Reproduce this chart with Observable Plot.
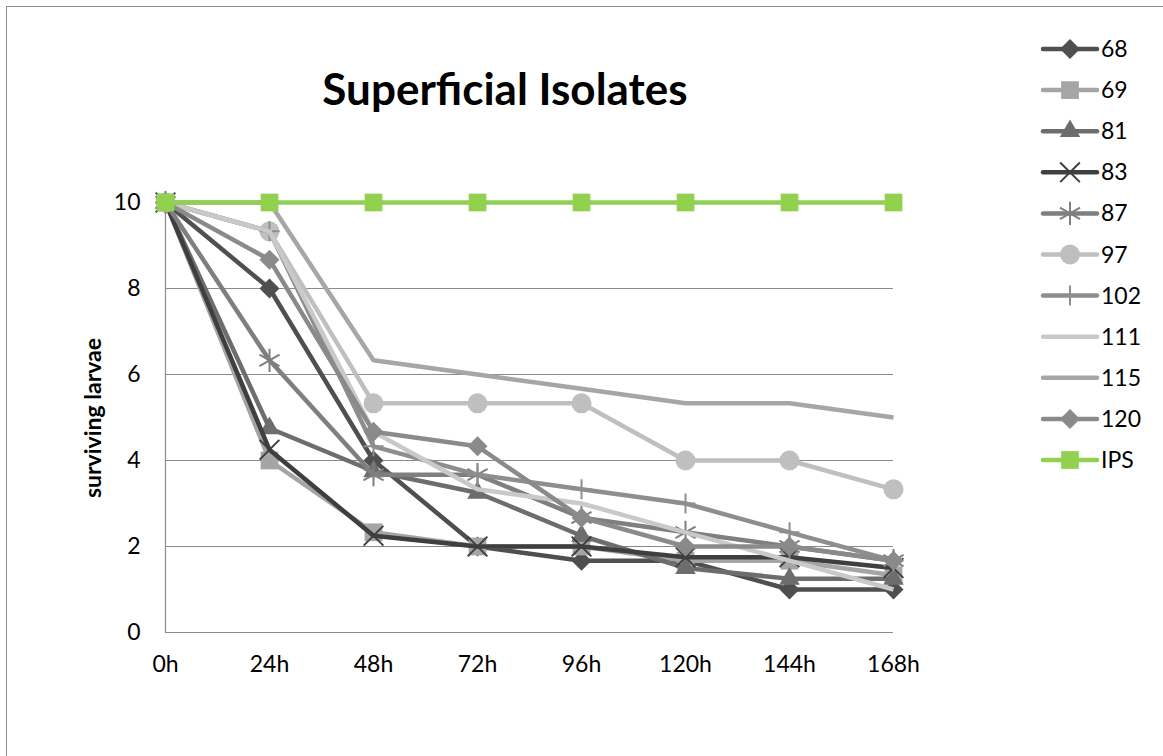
<!DOCTYPE html>
<html>
<head>
<meta charset="utf-8">
<script src="https://cdn.jsdelivr.net/npm/d3@7"></script>
<script src="https://cdn.jsdelivr.net/npm/@observablehq/plot@0.6"></script>
<style>
  body { margin: 0; background: #fff; font-family: Lato, "Open Sans", sans-serif; }
  #wrap { position: relative; width: 1163px; height: 756px; overflow: hidden; }
  #frame { position: absolute; left: 6px; top: 6px; width: 1200px; height: 800px; border: 1px solid #8c8c8c; }
  #title { position: absolute; left: 0; width: 1010px; top: 60px; text-align: center; font-size: 44px; font-weight: bold; color: #000; line-height: 56px; }
  #ylabel { position: absolute; left: 92px; top: 418px; transform: translate(-50%, -50%) rotate(-90deg); font-size: 23px; font-weight: bold; white-space: nowrap; color: #000; }
  #legend { position: absolute; left: 1040px; top: 28px; }
  #chart { position: absolute; left: 0; top: 0; }
</style>
</head>
<body>
<div id="wrap">
  <div id="frame"></div>
  <div id="chart"></div>
  <div id="title">Superficial Isolates</div>
  <div id="ylabel">surviving larvae</div>
  <div id="legend"></div>
</div>
<script>
const hours = ["0h", "24h", "48h", "72h", "96h", "120h", "144h", "168h"];
const seriesNames = ["68", "69", "81", "83", "87", "97", "102", "111", "115", "120", "IPS"];
const s68  = [10, 8, 4, 2, 1.67, 1.67, 1, 1];
const s69  = [10, 4, 2.33, 2, 2, 1.67, 1.67, 1.33];
const s81  = [10, 4.75, 3.75, 3.25, 2.25, 1.5, 1.25, 1.25];
const s83  = [10, 4.25, 2.25, 2, 2, 1.75, 1.75, 1.5];
const s87  = [10, 6.33, 3.67, 3.67, 2.67, 2.33, 2, 1.67];
const s97  = [10, 9.33, 5.33, 5.33, 5.33, 4, 4, 3.33];
const s102 = [10, 9.33, 4.33, 3.67, 3.33, 3, 2.33, 1.67];
const s111 = [10, 9.33, 4.67, 3.33, 3, 2.33, 1.67, 1];
const s115 = [10, 10, 6.33, 6, 5.67, 5.33, 5.33, 5];
const s120 = [10, 8.67, 4.67, 4.33, 2.67, 2, 2, 1.67];
const sIPS = [10, 10, 10, 10, 10, 10, 10, 10];
const yTicks = [0, 2, 4, 6, 8, 10];

const seriesValues = [s68, s69, s81, s83, s87, s97, s102, s111, s115, s120, sIPS];
const seriesColors = ["#4f4f4f", "#a5a5a5", "#6d6d6d", "#3f3f3f", "#7f7f7f", "#bfbfbf", "#8e8e8e", "#c9c9c9", "#a6a6a6", "#8a8a8a", "#92d050"];
const seriesSymbols = ["diamond2", "square", "triangle", "times", "asterisk", "circle", "plus", null, null, "diamond2", "square"];
const symbolR = {diamond2: 9, square: 10, triangle: 7.6, times: 9, asterisk: 11, circle: 10, plus: 6.5};
const strokeOnly = new Set(["times", "asterisk", "plus"]);

const rows = [];
seriesNames.forEach((name, i) => {
  seriesValues[i].forEach((v, j) => rows.push({series: name, hour: hours[j], value: v}));
});

const marks = [
  Plot.ruleY(yTicks, {stroke: "#8a8a8a", strokeWidth: 1.2}),
  Plot.ruleX([hours[0]], {y1: 0, y2: 10, stroke: "#8a8a8a", strokeWidth: 1.2}),
  Plot.axisY(yTicks, {tickSize: 0, tickPadding: 25, fontSize: 23, label: null}),
  Plot.axisX(hours, {tickSize: 0, tickPadding: 23, fontSize: 23, label: null})
];
seriesNames.forEach((name, i) => {
  const d = rows.filter(r => r.series === name);
  const color = seriesColors[i];
  marks.push(Plot.line(d, {x: "hour", y: "value", stroke: color, strokeWidth: 4.5, strokeLinejoin: "round", strokeLinecap: "butt"}));
  const sym = seriesSymbols[i];
  if (sym) {
    if (strokeOnly.has(sym)) {
      marks.push(Plot.dot(d, {x: "hour", y: "value", symbol: sym, r: symbolR[sym], stroke: color, strokeWidth: 2, fill: "none"}));
    } else {
      marks.push(Plot.dot(d, {x: "hour", y: "value", symbol: sym, r: symbolR[sym], fill: color, stroke: "none"}));
    }
  }
});

const chart = Plot.plot({
  width: 1163,
  height: 756,
  marginLeft: 165,
  marginRight: 270,
  marginTop: 202,
  marginBottom: 124,
  style: {fontFamily: "Lato, 'Open Sans', sans-serif", color: "#000", background: "transparent"},
  x: {type: "point", domain: hours, padding: 0, axis: null},
  y: {domain: [0, 10], axis: null},
  marks
});
document.getElementById("chart").appendChild(chart);

// Legend
const rowH = 41.1;
const lg = d3.select("#legend").append("svg").attr("width", 120).attr("height", 460)
  .style("font-family", "Lato, 'Open Sans', sans-serif");
const symMap = {diamond2: d3.symbolDiamond2, square: d3.symbolSquare, triangle: d3.symbolTriangle, times: d3.symbolTimes, asterisk: d3.symbolAsterisk, circle: d3.symbolCircle, plus: d3.symbolPlus};
seriesNames.forEach((name, i) => {
  const g = lg.append("g").attr("transform", `translate(0,${21 + i * rowH})`);
  const color = seriesColors[i];
  g.append("line").attr("x1", 3).attr("x2", 57).attr("y1", 0).attr("y2", 0)
    .attr("stroke", color).attr("stroke-width", 4.5).attr("stroke-linecap", "round");
  const sym = seriesSymbols[i];
  if (sym) {
    const r = symbolR[sym];
    const path = d3.symbol(symMap[sym], Math.PI * r * r)();
    const p = g.append("path").attr("d", path).attr("transform", "translate(30,0)");
    if (strokeOnly.has(sym)) p.attr("fill", "none").attr("stroke", color).attr("stroke-width", 2);
    else p.attr("fill", color);
  }
  g.append("text").attr("x", 61).attr("y", 0).attr("dy", "0.35em").attr("font-size", 23).attr("fill", "#000").text(name);
});
</script>
</body>
</html>
